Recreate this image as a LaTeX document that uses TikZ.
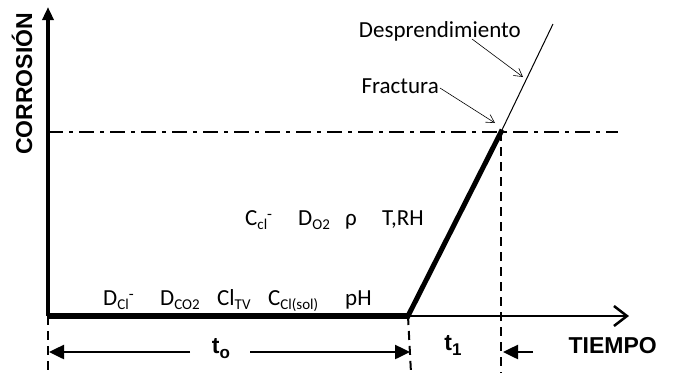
\documentclass[tikz,border=0pt]{standalone}
\usepackage{fontspec}
\setmainfont{Carlito}
\newfontfamily\arialfont{Liberation Sans}
\usetikzlibrary{arrows.meta}
\newcommand\lowsub[1]{\raisebox{-4pt}{\fontsize{15}{15}\selectfont #1}}
\newcommand\minussup{\raisebox{6pt}{\fontsize{16}{16}\selectfont -}}
\newcommand\boldsub[1]{\raisebox{-5pt}{\fontsize{17}{17}\selectfont #1}}

\begin{document}
\begin{tikzpicture}[x=1pt,y=-1pt,
    lbl/.style={font=\fontsize{23}{26}\selectfont, inner sep=0pt},
    boldlbl/.style={font=\arialfont\bfseries\fontsize{23}{26}\selectfont, inner sep=0pt},
    guide/.style={line width=2pt, dash pattern=on 9pt off 6pt},
    pointer/.style={line width=0.6pt, -{Straight Barb[length=8pt,width=9pt,line width=0.6pt]}},
    span/.style={line width=2.5pt, -{Triangle[length=15pt,width=14pt]}}]
    \useasboundingbox (0,0) rectangle (673,373);
    % main points of the curve
    \coordinate (origin) at (48,316);
    \coordinate (knee) at (408,316);
    \coordinate (frac) at (501,132);
    \coordinate (top) at (553,24);
    \coordinate (ytop) at (48,7);
    \coordinate (xend) at (629,316);
    \coordinate (lvlL) at (48,132);
    \coordinate (lvlR) at (618,132);
    % axes
    \draw[line width=3.5pt, -{Triangle[length=13pt,width=11pt]}] (origin) -- (ytop);
    \draw[line width=2.5pt, -{Straight Barb[length=13pt,width=20pt,line width=2.5pt]}] (knee) -- (xend);
    \node[boldlbl, rotate=90, anchor=base] (corr) at (32,84) {CORROSIÓN};
    \node[boldlbl, anchor=base east] (tiempo) at (657,353) {TIEMPO};
    % critical level
    \draw[line width=2.5pt, dash pattern=on 15pt off 6pt on 4pt off 6pt] (lvlL) -- (lvlR);
    % corrosion curve
    \draw[line width=5.5pt] (origin) -- (knee);
    \draw[line width=5pt, line cap=rect] (knee) -- (frac);
    \draw[line width=1pt] (frac) -- (top);
    % guides down to the time axis
    \coordinate (g0) at (48,371);
    \coordinate (g1) at (411,373);
    \coordinate (g2) at (501,373);
    \draw[guide] (origin) -- (g0);
    \draw[guide] (knee) -- (g1);
    \draw[guide] (frac) -- (g2);
    % stages
    \node[lbl, anchor=base east] (desp) at (521,37) {Desprendimiento};
    \node[lbl, anchor=base east] (fract) at (439,93) {Fractura};
    \coordinate (despTail) at (472,39);
    \coordinate (despTip) at (523,77);
    \coordinate (fractTail) at (440,88);
    \coordinate (fractTip) at (495,123);
    \draw[pointer] (despTail) -- (despTip);
    \draw[pointer] (fractTail) -- (fractTip);
    % variables of propagation
    \node[lbl, anchor=base west] (ccl) at (245,225) {C\lowsub{cl}\minussup};
    \node[lbl, anchor=base west] (do2) at (298,225) {D\lowsub{O2}};
    \node[lbl, anchor=base west] (rho) at (345,225) {ρ};
    \node[lbl, anchor=base west] (trh) at (382,225) {T,RH};
    % variables of initiation
    \node[lbl, anchor=base west] (dcl) at (103,305) {D\lowsub{Cl}\minussup};
    \node[lbl, anchor=base west] (dco2) at (160,305) {D\lowsub{CO2}};
    \node[lbl, anchor=base west] (cltv) at (217,305) {Cl\lowsub{TV}};
    \node[lbl, anchor=base west] (cclsol) at (268,305) {C\lowsub{Cl(sol)}};
    \node[lbl, anchor=base west] (ph) at (345,305) {pH};
    % times
    \node[boldlbl, anchor=base] (to) at (221,353) {t\boldsub{o}};
    \node[boldlbl, anchor=base] (t1) at (453,350) {t\boldsub{1}};
    \coordinate (toL) at (190,352);
    \coordinate (toR) at (250,352);
    \coordinate (t1R) at (533,352);
    \draw[span] (toL) -- (49,352);
    \draw[span] (toR) -- (410,352);
    \draw[span] (t1R) -- (503,352);
\end{tikzpicture}
\end{document}
